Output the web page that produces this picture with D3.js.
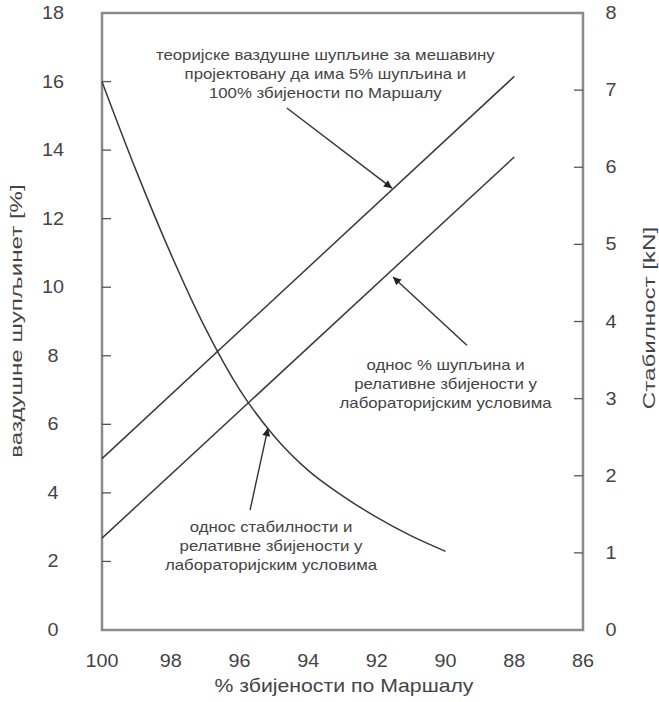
<!DOCTYPE html>
<html>
  <head>
    <meta charset="utf-8">
    <title>Збијеност по Маршалу</title>
    <script src="https://d3js.org/d3.v7.min.js"></script>
    <style>
      body { margin: 0; background: #fff; }
      svg text { font-family: "Liberation Sans", Arial, sans-serif; fill: #444; }
    </style>
  </head>
  <body>
    <svg id="chart" width="659" height="702"></svg>
    <script>
      // data
      var xTicks = [100, 98, 96, 94, 92, 90, 88, 86];
      var leftTicks = [0, 2, 4, 6, 8, 10, 12, 14, 16, 18];
      var rightTicks = [0, 1, 2, 3, 4, 5, 6, 7, 8];
      // air voids [%], left axis
      var theoryLine = [[100, 5.0], [88, 16.15]];
      var labLine = [[100, 2.68], [88, 13.8]];
      // stability [kN], right axis
      var stabX = [100, 99, 98, 97, 96, 95, 94, 93, 92, 91, 90];
      var stabY = [7.11, 5.95, 4.88, 3.92, 3.12, 2.52, 2.07, 1.74, 1.46, 1.22, 1.02];
      // annotations: text lines, text anchor [x, left y], arrow tail and tip
      var notes = [
        { lines: ["теоријске ваздушне шупљине за мешавину", "пројектовану да има 5% шупљина и", "100% збијености по Маршалу"],
          at: [93.5, 16.63], tail: [94.62, 15.23], tip: [91.56, 12.89] },
        { lines: ["однос % шупљина и", "релативне збијености у", "лабораторијским условима"],
          at: [90.0, 7.58], tail: [89.38, 8.31], tip: [91.53, 10.3] },
        { lines: ["однос стабилности и", "релативне збијености у", "лабораторијским условима"],
          at: [95.08, 2.86], tail: [95.69, 3.5], tip: [95.17, 5.89] }
      ];

      var svg = d3.select("#chart");
      var x = d3.scaleLinear().domain([100, 86]).range([102, 583]);
      var yL = d3.scaleLinear().domain([0, 18]).range([630, 13]);
      var yR = d3.scaleLinear().domain([0, 8]).range([630, 13]);

      // arrow head
      svg.append("defs").append("marker")
          .attr("id", "head")
          .attr("viewBox", "0 0 10 10")
          .attr("refX", 10).attr("refY", 5)
          .attr("markerWidth", 11).attr("markerHeight", 8)
          .attr("markerUnits", "userSpaceOnUse")
          .attr("orient", "auto")
        .append("path")
          .attr("d", "M0,0L10,5L0,10Z")
          .style("fill", "#222");

      // frame
      svg.append("rect")
          .attr("x", x(100)).attr("y", yL(18))
          .attr("width", x(86) - x(100)).attr("height", yL(0) - yL(18))
          .style("fill", "none").style("stroke", "#8a8a8a").style("stroke-width", 2.5);

      // inward ticks
      svg.selectAll(".tickL")
          .data(leftTicks.slice(1, -1))
        .enter().append("line")
          .attr("x1", x(100)).attr("x2", x(100) + 9)
          .attr("y1", yL).attr("y2", yL)
          .style("stroke", "#555").style("stroke-width", 1.3);
      svg.selectAll(".tickR")
          .data(rightTicks.slice(1, -1))
        .enter().append("line")
          .attr("x1", x(86)).attr("x2", x(86) - 9)
          .attr("y1", yR).attr("y2", yR)
          .style("stroke", "#555").style("stroke-width", 1.3);

      // tick labels, slightly stretched like the scan
      function tickLabel(sel, px, py) {
        sel.append("text")
            .attr("transform", function(d) { return "translate(" + px(d) + "," + py(d) + ") scale(1.1,1)"; })
            .attr("text-anchor", "middle")
            .style("font-size", "18px")
            .text(function(d) { return d; });
      }
      tickLabel(svg.selectAll(".labL").data(leftTicks).enter(),
        function() { return 53; }, function(d) { return yL(d) + 6; });
      tickLabel(svg.selectAll(".labR").data(rightTicks).enter(),
        function() { return 611; }, function(d) { return yR(d) + 6; });
      tickLabel(svg.selectAll(".labX").data(xTicks).enter(),
        x, function() { return 667; });

      // axis titles
      svg.append("text")
          .attr("transform", "translate(344,692) scale(1.18,1)")
          .attr("text-anchor", "middle")
          .style("font-size", "18px")
          .text("% збијености по Маршалу");
      svg.append("text")
          .attr("transform", "translate(22,321) rotate(-90) scale(1.42,1)")
          .attr("text-anchor", "middle")
          .style("font-size", "17px")
          .text("ваздушне шупљинет [%]");
      svg.append("text")
          .attr("transform", "translate(655,318) rotate(-90) scale(1.42,1)")
          .attr("text-anchor", "middle")
          .style("font-size", "17px")
          .text("Стабилност [kN]");

      // lines
      var lineL = d3.line()
          .x(function(d) { return x(d[0]); })
          .y(function(d) { return yL(d[1]); });
      [theoryLine, labLine].forEach(function(data) {
        svg.append("path")
            .attr("d", lineL(data))
            .style("fill", "none").style("stroke", "#3a3a3a").style("stroke-width", 1.5);
      });
      var stab = stabX.map(function(v, i) { return [v, stabY[i]]; });
      svg.append("path")
          .attr("d", d3.line()
            .x(function(d) { return x(d[0]); })
            .y(function(d) { return yR(d[1]); })
            .curve(d3.curveMonotoneX)(stab))
          .style("fill", "none").style("stroke", "#3a3a3a").style("stroke-width", 1.5);

      // annotations
      notes.forEach(function(n) {
        svg.append("line")
            .attr("x1", x(n.tail[0])).attr("y1", yL(n.tail[1]))
            .attr("x2", x(n.tip[0])).attr("y2", yL(n.tip[1]))
            .attr("marker-end", "url(#head)")
            .style("stroke", "#333").style("stroke-width", 1.4);
        var t = svg.append("text")
            .attr("text-anchor", "middle")
            .attr("transform", "translate(" + x(n.at[0]) + "," + yL(n.at[1]) + ") scale(1.2,1)")
            .style("font-size", "14px");
        t.selectAll("tspan")
            .data(n.lines)
          .enter().append("tspan")
            .attr("x", 0)
            .attr("dy", function(d, i) { return i ? 19 : 0; })
            .text(function(d) { return d; });
      });
    </script>
  </body>
</html>
